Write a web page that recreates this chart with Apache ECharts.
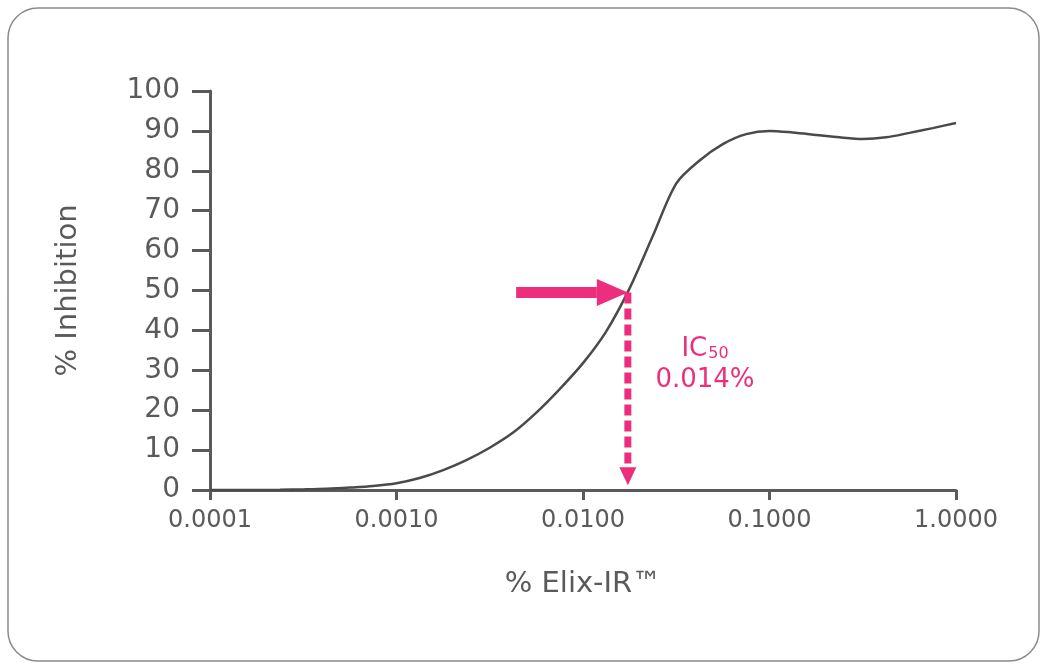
<!DOCTYPE html>
<html><head><meta charset="utf-8">
<script src="https://cdn.jsdelivr.net/npm/echarts@6/dist/echarts.min.js"></script>
<style>html,body{margin:0;padding:0;background:#fff}#c{width:1043px;height:666px}</style>
</head><body><div id="c"></div>
<script>
// Dose-response curve values
const concentration = [0.0001, 0.000133, 0.000178, 0.000237, 0.000316, 0.000422, 0.000562, 0.00075, 0.001, 0.00133, 0.00178, 0.00237, 0.00316, 0.00422, 0.00562, 0.0075, 0.01, 0.0133, 0.0178, 0.0237, 0.0316, 0.0422, 0.0562, 0.075, 0.1, 0.133, 0.178, 0.237, 0.316, 0.422, 0.562, 0.75, 1.0];
const inhibition    = [0, 0, 0, 0.05, 0.15, 0.3, 0.6, 1.0, 1.7, 3.0, 5.0, 7.5, 10.6, 14.4, 19.4, 25.3, 31.8, 39.7, 50.6, 63.7, 76.8, 82.6, 86.7, 89.2, 90, 89.6, 89.0, 88.4, 88.0, 88.4, 89.5, 90.7, 92];
const xTicks = [0.0001, 0.001, 0.01, 0.1, 1];
const yTicks = [0, 10, 20, 30, 40, 50, 60, 70, 80, 90, 100];
// IC50 annotation
const ic50Point = [0.0174, 49.5];
const arrowStartX = 0.00438;
const dashEndY = 1.2;
const ic50LabelPos = [0.0451, 32];
const ic50Text = ['IC', '50', '0.014%'];

const PINK = '#EC2F7C';
const GREY = '#5a5a5a';
const FONT = 'DejaVu Sans';

const chart = echarts.init(document.getElementById('c'), null, {renderer: 'canvas'});
chart.setOption({
  animation: false,
  backgroundColor: '#fff',
  graphic: [{
    type: 'rect', shape: {x: 8, y: 8, width: 1031, height: 653, r: 30},
    style: {fill: 'none', stroke: '#8a8a8a', lineWidth: 1.5}, z: -1
  }],
  grid: {left: 210, right: 87, top: 91, bottom: 176, containLabel: false},
  xAxis: {
    type: 'log', logBase: 10, min: xTicks[0], max: xTicks[xTicks.length - 1],
    name: '% Elix-IR™', nameLocation: 'middle', nameGap: 80,
    nameTextStyle: {fontFamily: FONT, fontSize: 29, color: GREY},
    axisLine: {lineStyle: {color: GREY, width: 3}},
    axisTick: {inside: false, length: 10, lineStyle: {color: GREY, width: 3}},
    splitLine: {show: false}, minorTick: {show: false},
    axisLabel: {fontFamily: FONT, fontSize: 24, color: GREY, margin: 19,
      formatter: v => Number(v).toFixed(4)}
  },
  yAxis: {
    type: 'value', min: yTicks[0], max: yTicks[yTicks.length - 1], interval: 10,
    name: '% Inhibition', nameLocation: 'middle', nameGap: 127, nameRotate: 90,
    nameTextStyle: {fontFamily: FONT, fontSize: 29, color: GREY},
    axisLine: {show: true, lineStyle: {color: GREY, width: 3}},
    axisTick: {show: true, inside: false, length: 18, lineStyle: {color: GREY, width: 3}},
    splitLine: {show: false},
    axisLabel: {fontFamily: FONT, fontSize: 28, color: GREY, margin: 30}
  },
  series: [{
    type: 'line', smooth: 0.3, symbol: 'none',
    data: concentration.map((c, i) => [c, inhibition[i]]),
    lineStyle: {color: '#4a4a4a', width: 2.5}, z: 3
  }, {
    type: 'custom', z: 4,
    data: [[arrowStartX, ic50Point[0], ic50Point[1], dashEndY, ic50LabelPos[0], ic50LabelPos[1]]],
    renderItem: function (params, api) {
      const start = api.coord([api.value(0), api.value(2)]);
      const tip = api.coord([api.value(1), api.value(2)]);
      const bottom = api.coord([api.value(1), api.value(3)]);
      const lab = api.coord([api.value(4), api.value(5)]);
      const headLen = 31, headH = 27, shaft = 11;
      const vHeadLen = 18, vHeadW = 17;
      return {type: 'group', children: [
        {type: 'rect', shape: {x: start[0], y: tip[1] - shaft / 2, width: tip[0] - headLen - start[0], height: shaft}, style: {fill: PINK}},
        {type: 'polygon', shape: {points: [[tip[0] - headLen, tip[1] - headH / 2], [tip[0], tip[1]], [tip[0] - headLen, tip[1] + headH / 2]]}, style: {fill: PINK}},
        {type: 'line', shape: {x1: tip[0], y1: tip[1], x2: bottom[0], y2: bottom[1] - vHeadLen}, style: {stroke: PINK, lineWidth: 7, lineDash: [11, 5]}},
        {type: 'polygon', shape: {points: [[bottom[0] - vHeadW / 2, bottom[1] - vHeadLen], [bottom[0] + vHeadW / 2, bottom[1] - vHeadLen], [bottom[0], bottom[1]]]}, style: {fill: PINK}},
        {type: 'text', x: lab[0], y: lab[1], style: {
          text: '{a|' + ic50Text[0] + '}{b|' + ic50Text[1] + '}\n{c|' + ic50Text[2] + '}',
          align: 'center', verticalAlign: 'middle',
          rich: {
            a: {fontFamily: FONT, fontSize: 26, fill: PINK, lineHeight: 36, verticalAlign: 'bottom'},
            b: {fontFamily: FONT, fontSize: 16, fill: PINK, lineHeight: 36, verticalAlign: 'bottom', padding: [0, 0, 0, 1]},
            c: {fontFamily: FONT, fontSize: 26, fill: PINK, lineHeight: 36}
          }
        }}
      ]};
    }
  }]
});
</script></body></html>
